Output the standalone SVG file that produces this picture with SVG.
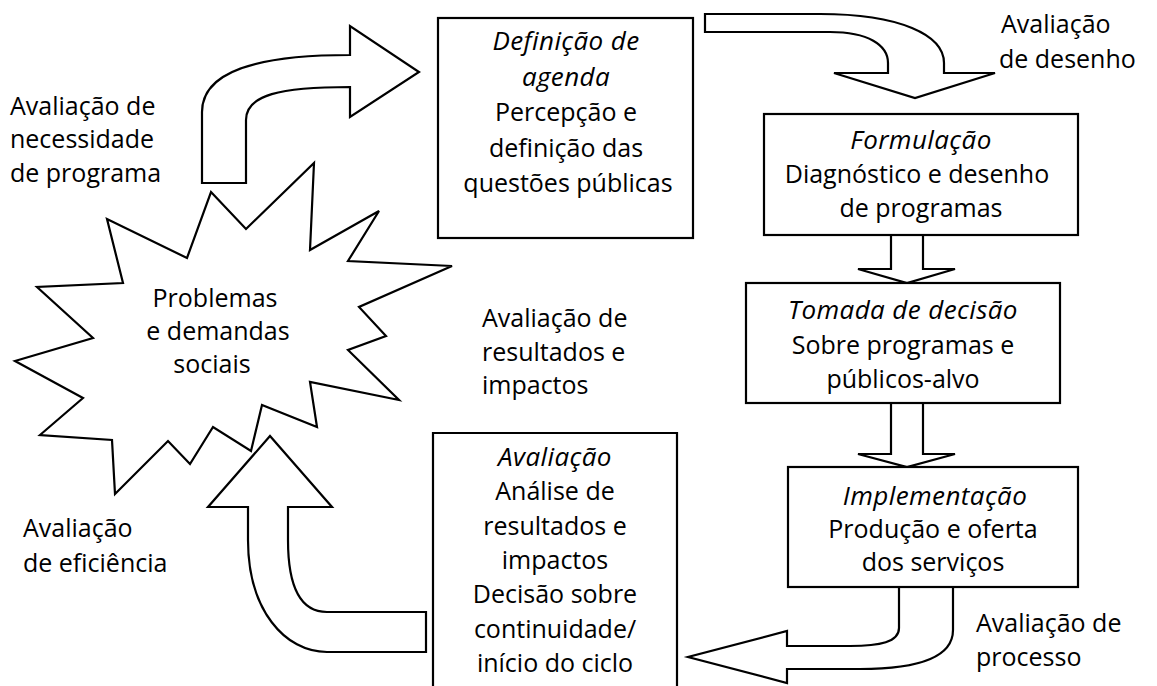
<svg xmlns="http://www.w3.org/2000/svg" width="1157" height="686" viewBox="0 0 1157 686">
<style>
.shape{fill:#fff;stroke:#000;stroke-width:2.2;stroke-linejoin:miter}
.box{fill:#fff;stroke:#000;stroke-width:2.2}
text{font-family:"Open Sans","Noto Sans","Liberation Sans",sans-serif;font-size:25px;fill:#000}
.c{text-anchor:middle}
.i{font-style:italic;font-size:26px;letter-spacing:0.4px}
</style>
<rect width="1157" height="686" fill="#fff"/>
<g id="problemas">
<polygon class="shape" points="211,192 246,229 314,163 310,250 379,211 348,261 452,266 359,307 386,336 348,350 399,400 310,382 317,427 262,405 251,451 213,427 190,464 168,441 115,494 112,440 40,435 83,398 15,361 93,338 37,287 123,283 107,219 187,258"/>
<text class="c" x="215" y="307">Problemas</text>
<text class="c" x="218" y="340">e demandas</text>
<text class="c" x="212" y="373">sociais</text>
</g>
<g id="connectors">
<path class="shape" d="M202,183 L202,112 C202,72 255,55 350,55 L350,26 L419,72 L350,117 L350,87 C280,87 246,95 246,120 L246,183 Z"/>
<path class="shape" d="M705,14 L820,14 C900,14 944,35 944,63 L944,73 L995,73 L915,98 L834,73 L888,73 L888,63 C888,45 868,32 830,32 L705,32 Z"/>
<path class="shape" d="M891,235 L891,269 L858,269 L907,283 L955,269 L923,269 L923,235"/>
<path class="shape" d="M891,403 L891,454 L858,454 L907,467 L955,454 L923,454 L923,403"/>
<path class="shape" d="M899,587 L899,628 C899,642 880,646 850,646 L787,646 L787,631 L688,657 L787,683 L787,669 L860,669 C925,669 953,655 953,630 L953,587"/>
<path class="shape" d="M426,612 L327,612 C300,612 288,585 288,540 L288,507 L332,507 L270,436 L208,507 L248,507 L248,540 C248,610 285,652 327,652 L426,652 Z"/>
</g>
<g id="agenda">
<rect class="box" x="438" y="18" width="255" height="220"/>
<text class="c i" x="566" y="50">Definição de</text>
<text class="c i" x="566" y="86">agenda</text>
<text class="c" x="566" y="121">Percepção e</text>
<text class="c" x="566" y="157">definição das</text>
<text class="c" x="568" y="192">questões públicas</text>
</g>
<g id="formulacao">
<rect class="box" x="764" y="114" width="314" height="121"/>
<text class="c i" x="921" y="149">Formulação</text>
<text class="c" x="917" y="183">Diagnóstico e desenho</text>
<text class="c" x="921" y="217">de programas</text>
</g>
<g id="tomada">
<rect class="box" x="746" y="283" width="314" height="120"/>
<text class="c i" x="903" y="319">Tomada de decisão</text>
<text class="c" x="903" y="354">Sobre programas e</text>
<text class="c" x="903" y="388">públicos-alvo</text>
</g>
<g id="implementacao">
<rect class="box" x="788" y="467" width="290" height="120"/>
<text class="c i" x="935" y="505">Implementação</text>
<text class="c" x="933" y="538">Produção e oferta</text>
<text class="c" x="933" y="571">dos serviços</text>
</g>
<g id="avaliacao">
<path class="box" d="M433,690 L433,433 L677,433 L677,690"/>
<text class="c i" x="555" y="466">Avaliação</text>
<text class="c" x="555" y="500">Análise de</text>
<text class="c" x="555" y="535">resultados e</text>
<text class="c" x="555" y="569">impactos</text>
<text class="c" x="555" y="603">Decisão sobre</text>
<text class="c" x="555" y="638">continuidade/</text>
<text class="c" x="555" y="672">início do ciclo</text>
</g>
<g id="labels">
<text x="10" y="115">Avaliação de</text>
<text x="10" y="148">necessidade</text>
<text x="10" y="182">de programa</text>
<text x="1001" y="33">Avaliação</text>
<text x="999" y="68">de desenho</text>
<text x="482" y="327">Avaliação de</text>
<text x="482" y="361">resultados e</text>
<text x="482" y="394">impactos</text>
<text x="23" y="537">Avaliação</text>
<text x="23" y="572">de eficiência</text>
<text x="976" y="632">Avaliação de</text>
<text x="976" y="666">processo</text>
</g>
</svg>
